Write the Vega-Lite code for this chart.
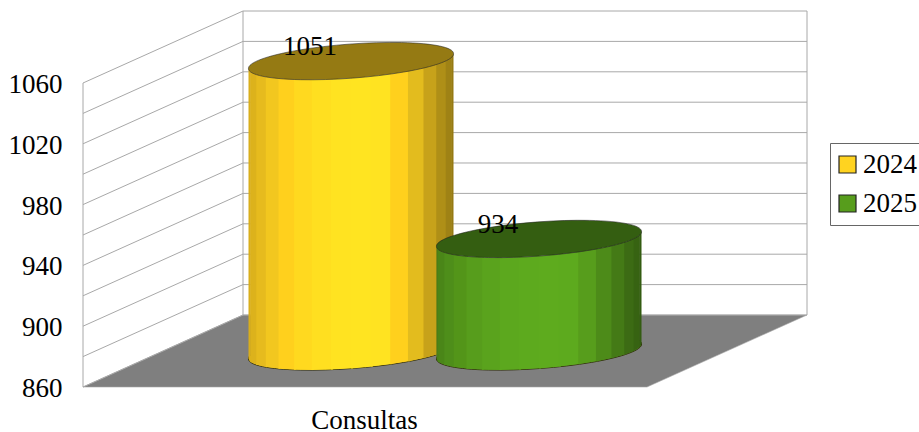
{
  "$schema": "https://vega.github.io/schema/vega-lite/v6.json",
  "autosize": "none",
  "padding": {"left": 83, "top": 11, "right": 112, "bottom": 45},
  "width": 724,
  "height": 376,
  "background": "white",
  "config": {
    "view": {"stroke": null},
    "font": "Liberation Serif",
    "axis": {"grid": false, "domain": false, "ticks": false, "labelFont": "Liberation Serif", "labelFontSize": 27, "labelColor": "black"}
  },
  "datasets": {
    "cylinders": [
      {"year": "2024", "value": 1051},
      {"year": "2025", "value": 934}
    ],
    "grid": [
      {"level": 860}, {"level": 880}, {"level": 900}, {"level": 920}, {"level": 940}, {"level": 960},
      {"level": 980}, {"level": 1000}, {"level": 1020}, {"level": 1040}, {"level": 1060}
    ],
    "corners": [
      {"across": 0, "depth": 0}, {"across": 0, "depth": 1}, {"across": 564, "depth": 0}, {"across": 564, "depth": 1}
    ],
    "frame": [
      {"across": 0, "depth": 0}, {"across": 0, "depth": 1}, {"across": 564, "depth": 1}
    ],
    "stripes": [
      {"year": "2024", "stripe": 0, "edges": [0, 1]}, {"year": "2024", "stripe": 1, "edges": [1, 2]},
      {"year": "2024", "stripe": 2, "edges": [2, 3]}, {"year": "2024", "stripe": 3, "edges": [3, 4]},
      {"year": "2024", "stripe": 4, "edges": [4, 5]}, {"year": "2024", "stripe": 5, "edges": [5, 6]},
      {"year": "2024", "stripe": 6, "edges": [6, 7]}, {"year": "2024", "stripe": 7, "edges": [7, 8]},
      {"year": "2024", "stripe": 8, "edges": [8, 9]}, {"year": "2024", "stripe": 9, "edges": [9, 10]},
      {"year": "2024", "stripe": 10, "edges": [10, 11]}, {"year": "2024", "stripe": 11, "edges": [11, 12]},
      {"year": "2024", "stripe": 12, "edges": [12, 13]}, {"year": "2024", "stripe": 13, "edges": [13, 14]},
      {"year": "2024", "stripe": 14, "edges": [14, 15]}, {"year": "2024", "stripe": 15, "edges": [15, 16]},
      {"year": "2025", "stripe": 0, "edges": [0, 1]}, {"year": "2025", "stripe": 1, "edges": [1, 2]},
      {"year": "2025", "stripe": 2, "edges": [2, 3]}, {"year": "2025", "stripe": 3, "edges": [3, 4]},
      {"year": "2025", "stripe": 4, "edges": [4, 5]}, {"year": "2025", "stripe": 5, "edges": [5, 6]},
      {"year": "2025", "stripe": 6, "edges": [6, 7]}, {"year": "2025", "stripe": 7, "edges": [7, 8]},
      {"year": "2025", "stripe": 8, "edges": [8, 9]}, {"year": "2025", "stripe": 9, "edges": [9, 10]},
      {"year": "2025", "stripe": 10, "edges": [10, 11]}, {"year": "2025", "stripe": 11, "edges": [11, 12]},
      {"year": "2025", "stripe": 12, "edges": [12, 13]}, {"year": "2025", "stripe": 13, "edges": [13, 14]},
      {"year": "2025", "stripe": 14, "edges": [14, 15]}, {"year": "2025", "stripe": 15, "edges": [15, 16]}
    ]
  },
  "layer": [
    {
      "data": {"name": "corners"},
      "transform": [
        {"calculate": "datum.across + 160 * datum.depth", "as": "px"},
        {"calculate": "860 + 47.37 * min(datum.px / 160, 1)", "as": "upper"},
        {"calculate": "860 + 47.37 * max((datum.px - 564) / 160, 0)", "as": "lower"}
      ],
      "mark": {"type": "area", "fill": "#7f7f7f", "stroke": "#a6a6a6", "strokeWidth": 0.6},
      "encoding": {
        "x": {
          "field": "px", "type": "quantitative",
          "scale": {"domain": [0, 724], "nice": false, "zero": false},
          "axis": {"orient": "bottom", "values": [281], "labelExpr": "'Consultas'", "title": null, "labelPadding": 20, "labelFlush": false}
        },
        "y": {
          "field": "upper", "type": "quantitative", "stack": null,
          "scale": {"domain": [860, 1107.37], "nice": false, "zero": false},
          "axis": {"orient": "left", "values": [860, 900, 940, 980, 1020, 1060], "format": "d", "title": null, "labelPadding": 21, "labelOffset": 1.5}
        },
        "y2": {"field": "lower"}
      }
    },
    {
      "data": {"name": "grid"},
      "transform": [
        {"calculate": "datum.level + 47.37", "as": "backLevel"}
      ],
      "mark": {"type": "rule", "color": "#a8a8a8", "strokeWidth": 1},
      "encoding": {
        "x": {"datum": 0, "type": "quantitative"},
        "x2": {"datum": 160},
        "y": {"field": "level", "type": "quantitative"},
        "y2": {"field": "backLevel"}
      }
    },
    {
      "data": {"name": "grid"},
      "transform": [
        {"calculate": "datum.level + 47.37", "as": "backLevel"}
      ],
      "mark": {"type": "rule", "color": "#a8a8a8", "strokeWidth": 1},
      "encoding": {
        "x": {"datum": 160, "type": "quantitative"},
        "x2": {"datum": 724},
        "y": {"field": "backLevel", "type": "quantitative"}
      }
    },
    {
      "data": {"name": "frame"},
      "transform": [
        {"calculate": "datum.across + 160 * datum.depth", "as": "px"},
        {"calculate": "860 + 47.37 * datum.depth", "as": "low"},
        {"calculate": "1060 + 47.37 * datum.depth", "as": "high"}
      ],
      "mark": {"type": "rule", "color": "#a8a8a8", "strokeWidth": 1},
      "encoding": {
        "x": {"field": "px", "type": "quantitative"},
        "y": {"field": "low", "type": "quantitative"},
        "y2": {"field": "high"}
      }
    },
    {
      "data": {"name": "cylinders"},
      "transform": [
        {"calculate": "(datum.year === '2024' ? 1 : 2) * 188 + 80", "as": "center"},
        {"calculate": "883.4", "as": "floorLevel"}
      ],
      "mark": {
        "type": "point", "filled": true, "opacity": 1, "size": 42025,
        "shape": "M-1.0004,0.0742 A1.0032,0.165,-4.24,1,1,1.0004,-0.0742 A1.0032,0.165,-4.24,1,1,-1.0004,0.0742 Z",
        "stroke": "#33300f", "strokeWidth": 1
      },
      "encoding": {
        "x": {"field": "center", "type": "quantitative"},
        "y": {"field": "floorLevel", "type": "quantitative"},
        "fill": {
          "field": "year", "type": "nominal",
          "scale": {"domain": ["2024", "2025"], "range": ["#ffd320", "#579d1c"]},
          "legend": {
            "orient": "none", "legendX": 747, "legendY": 132, "title": null,
            "symbolType": "square", "symbolSize": 289, "symbolStrokeWidth": 1.2, "symbolOpacity": 1, "symbolStrokeColor": "#222222",
            "symbolOffset": -4,
            "labelFont": "Liberation Serif", "labelFontSize": 27, "labelColor": "black", "labelOffset": 2,
            "rowPadding": 11, "padding": 8, "strokeColor": "#666666", "fillColor": "white"
          }
        }
      }
    },
    {
      "data": {"name": "stripes"},
      "transform": [
        {"lookup": "year", "from": {"data": {"name": "cylinders"}, "key": "year", "fields": ["value"]}},
        {"flatten": ["edges"], "as": ["edge"]},
        {"calculate": "PI * ((datum.edge === datum.stripe ? datum.edge : min(datum.edge + 0.1, 16)) / 16 - 1)", "as": "psi"},
        {"calculate": "(datum.year === '2024' ? 1 : 2) * 188 + 80 + 102.5 * cos(datum.psi)", "as": "px"},
        {"calculate": "883.4 + 12.17 * sin(datum.psi + 0.412)", "as": "base"},
        {"calculate": "datum.base + datum.value - 860", "as": "top"},
        {"calculate": "datum.year + '-' + datum.stripe", "as": "shade"}
      ],
      "mark": {"type": "area"},
      "encoding": {
        "x": {"field": "px", "type": "quantitative"},
        "y": {"field": "top", "type": "quantitative", "stack": null},
        "y2": {"field": "base"},
        "color": {
          "field": "shade", "type": "nominal", "legend": null,
          "scale": {
            "domain": [
              "2024-0", "2024-1", "2024-2", "2024-3", "2024-4", "2024-5", "2024-6", "2024-7",
              "2024-8", "2024-9", "2024-10", "2024-11", "2024-12", "2024-13", "2024-14", "2024-15",
              "2025-0", "2025-1", "2025-2", "2025-3", "2025-4", "2025-5", "2025-6", "2025-7",
              "2025-8", "2025-9", "2025-10", "2025-11", "2025-12", "2025-13", "2025-14", "2025-15",
              "2024-top", "2025-top"
            ],
            "range": [
              "#d9ae1b", "#dcb21c", "#e6bb1e", "#f2c71f", "#ffd01d", "#ffd91f", "#ffdf20", "#ffe321",
              "#ffe421", "#ffe321", "#ffd01d", "#e3bc1e", "#c7a21a", "#af8f17", "#9f8215", "#957a13",
              "#487f18", "#4a8618", "#4e8e1a", "#539519", "#579d1c", "#5aa31d", "#5ca81e", "#5daa1e",
              "#5eab1e", "#5daa1e", "#579d1c", "#4d8b19", "#447a16", "#3c6b14", "#376312", "#335c11",
              "#957a13", "#345e11"
            ]
          }
        }
      }
    },
    {
      "data": {"name": "cylinders"},
      "transform": [
        {"calculate": "(datum.year === '2024' ? 1 : 2) * 188 + 80", "as": "center"},
        {"calculate": "883.4 + datum.value - 860", "as": "topLevel"},
        {"calculate": "datum.year + '-top'", "as": "shade"}
      ],
      "mark": {
        "type": "point", "filled": true, "opacity": 1, "size": 42025,
        "shape": "M-1.0004,0.0742 A1.0032,0.165,-4.24,1,1,1.0004,-0.0742 A1.0032,0.165,-4.24,1,1,-1.0004,0.0742 Z",
        "stroke": "#222222", "strokeWidth": 0.7, "strokeOpacity": 0.8
      },
      "encoding": {
        "x": {"field": "center", "type": "quantitative"},
        "y": {"field": "topLevel", "type": "quantitative"},
        "color": {"field": "shade", "type": "nominal", "legend": null}
      }
    },
    {
      "data": {"name": "cylinders"},
      "transform": [
        {"calculate": "(datum.year === '2024' ? 1 : 2) * 188 + 39", "as": "labelX"},
        {"calculate": "883.4 + datum.value - 860 + 4.2", "as": "labelLevel"}
      ],
      "mark": {"type": "text", "font": "Liberation Serif", "fontSize": 27, "color": "black", "align": "center", "baseline": "alphabetic"},
      "encoding": {
        "x": {"field": "labelX", "type": "quantitative"},
        "y": {"field": "labelLevel", "type": "quantitative"},
        "text": {"field": "value", "type": "quantitative"}
      }
    }
  ]
}
